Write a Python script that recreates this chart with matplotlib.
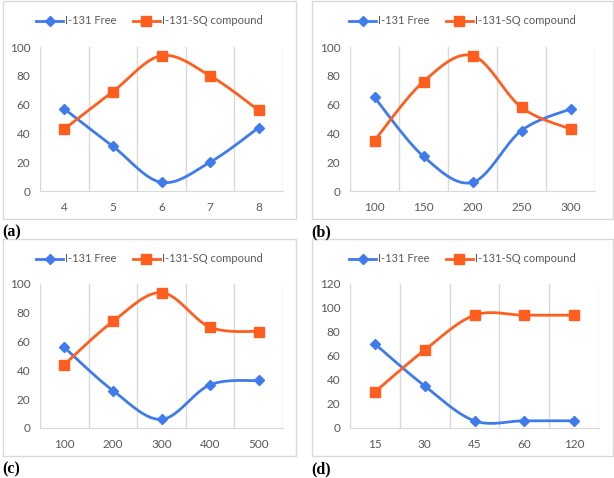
import numpy as np
import matplotlib
matplotlib.use("Agg")
import matplotlib.pyplot as plt
from matplotlib.patches import Rectangle

plt.rcParams["font.family"] = ["Lato", "DejaVu Sans"]

BLUE = "#3F7BEA"
ORANGE = "#FF5E1F"
GRID = "#D9D9D9"
TEXT = "#595959"

# panel data
a_x = ["4", "5", "6", "7", "8"]
a_free = [57, 31, 6, 20, 44]
a_sq = [43, 69, 94, 80, 56]

b_x = ["100", "150", "200", "250", "300"]
b_free = [65, 24, 6, 42, 57]
b_sq = [35, 76, 94, 58, 43]

c_x = ["100", "200", "300", "400", "500"]
c_free = [56, 26, 6, 30, 33]
c_sq = [44, 74, 94, 70, 67]

d_x = ["15", "30", "45", "60", "120"]
d_free = [70, 35, 6, 6, 6]
d_sq = [30, 65, 94, 94, 94]

W, H = 614, 478


def smooth(y, n=30):
    # Catmull-Rom style bezier, like Excel's smoothed line
    y = np.asarray(y, float)
    x = np.arange(len(y), dtype=float)
    px, py = [], []
    for i in range(len(y) - 1):
        i0, i3 = max(i - 1, 0), min(i + 2, len(y) - 1)
        p0 = np.array([x[i0], y[i0]])
        p1 = np.array([x[i], y[i]])
        p2 = np.array([x[i + 1], y[i + 1]])
        p3 = np.array([x[i3], y[i3]])
        c1 = p1 + (p2 - p0) / 6
        c2 = p2 - (p3 - p1) / 6
        t = np.linspace(0, 1, n)[:, None]
        pts = ((1 - t) ** 3) * p1 + 3 * ((1 - t) ** 2) * t * c1 + 3 * (1 - t) * t ** 2 * c2 + t ** 3 * p2
        px.extend(pts[:, 0])
        py.extend(pts[:, 1])
    return px, py


def px_axes(fig, left, top, right, bottom):
    return fig.add_axes([left / W, 1 - bottom / H, (right - left) / W, (bottom - top) / H])


def panel(fig, box, plot, labels, free, sq, ymax, tag):
    bl, bt, br, bb = box
    fig.patches.append(Rectangle((bl / W, 1 - bb / H), (br - bl) / W, (bb - bt) / H,
                                 transform=fig.transFigure, fill=False, edgecolor=GRID, lw=1))
    fig.text((bl - 1) / W, 1 - (bb + 13) / H, tag, family="Liberation Serif", fontweight="bold",
             fontsize=11.5, va="center", ha="left", color="black")

    ax = px_axes(fig, *plot)
    n = len(labels)
    for xb in np.arange(n + 1) - 0.5:
        ax.axvline(xb, color=GRID, lw=1, zorder=0)
    handles = []
    for vals, col, mk, ms, name in [(free, BLUE, "D", 5, "I-131 Free"),
                                    (sq, ORANGE, "s", 7.5, "I-131-SQ compound")]:
        sx, sy = smooth(vals)
        ax.plot(sx, sy, color=col, lw=2, zorder=2)
        ax.plot(range(n), vals, ls="none", marker=mk, ms=ms, color=col, zorder=3)
        h, = ax.plot([], [], color=col, lw=2, marker=mk, ms=ms, label=name)
        handles.append(h)
    ax.set_xlim(-0.5, n - 0.5)
    ax.set_ylim(0, ymax)
    ax.set_yticks(range(0, ymax + 1, 20))
    ax.set_xticks(range(n))
    ax.set_xticklabels(labels)
    for s in ["left", "right", "top"]:
        ax.spines[s].set_visible(False)
    ax.spines["bottom"].set_color(GRID)
    ax.tick_params(length=0, colors=TEXT, labelsize=8.5)
    ax.tick_params(axis="x", pad=8)
    ax.tick_params(axis="y", pad=7)
    # legend centred on the chart box
    cx = (bl + br) / 2 / W
    cy = 1 - (bt + 20) / H
    fig.legend(handles=handles, loc="center", bbox_to_anchor=(cx, cy), ncol=2, frameon=False,
               fontsize=8, labelcolor=TEXT, handlelength=2.4, handletextpad=0.2,
               columnspacing=1.5, borderaxespad=0, borderpad=0)


fig = plt.figure(figsize=(W / 100, H / 100), dpi=100)
panel(fig, (3, 1, 296, 219), (40, 47, 283, 191), a_x, a_free, a_sq, 100, "(a)")
panel(fig, (312, 1, 613, 219), (350, 47, 595, 191), b_x, b_free, b_sq, 100, "(b)")
panel(fig, (3, 239, 296, 456), (40, 284, 283, 428), c_x, c_free, c_sq, 100, "(c)")
panel(fig, (312, 239, 613, 456), (350, 284, 599, 428), d_x, d_free, d_sq, 120, "(d)")
fig.savefig("out.png", dpi=100)
